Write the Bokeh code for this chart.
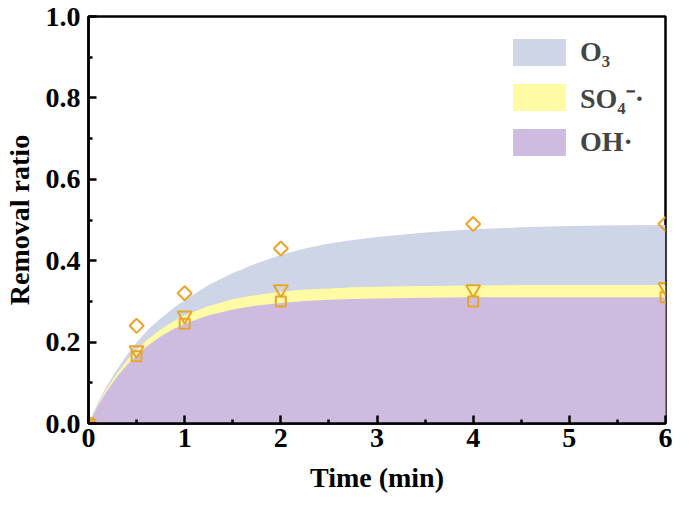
import math
from bokeh.plotting import figure
from bokeh.models import Legend, LegendItem, FixedTicker, CustomJSTickFormatter
from bokeh.embed import file_html
from bokeh.resources import INLINE

# measured points (min, removal ratio)
t_pts = [0, 0.5, 1, 2, 4, 6]
o3_pts = [0, 0.24, 0.32, 0.43, 0.49, 0.49]
so4_pts = [0, 0.18, 0.265, 0.33, 0.33, 0.335]
oh_pts = [0, 0.165, 0.245, 0.30, 0.30, 0.31]

# fitted curves
t_fit = [0, 0.1, 0.2, 0.3, 0.4, 0.5, 0.625, 0.75, 0.875, 1, 1.25, 1.5, 1.75,
         2, 2.25, 2.5, 2.75, 3, 3.5, 4, 4.5, 5, 5.5, 6]
o3_fit = [0, 0.052, 0.096, 0.134, 0.168, 0.199, 0.232, 0.258, 0.282, 0.303,
          0.340, 0.370, 0.394, 0.414, 0.430, 0.442, 0.451, 0.458, 0.469,
          0.477, 0.482, 0.485, 0.487, 0.488]
so4_fit = [0, 0.048, 0.089, 0.124, 0.155, 0.181, 0.208, 0.231, 0.250, 0.266,
           0.289, 0.305, 0.316, 0.324, 0.329, 0.332, 0.335, 0.336, 0.338,
           0.339, 0.340, 0.340, 0.340, 0.340]
oh_fit = [0, 0.045, 0.083, 0.116, 0.144, 0.168, 0.193, 0.214, 0.231, 0.245,
          0.266, 0.280, 0.290, 0.296, 0.301, 0.304, 0.306, 0.307, 0.309,
          0.310, 0.310, 0.310, 0.310, 0.310]

labels = ["O\u2083", "SO\u2084\u207b\u00b7", "OH\u00b7"]
x_ticks = [0, 1, 2, 3, 4, 5, 6]
x_minor = [0.5, 1.5, 2.5, 3.5, 4.5, 5.5]
y_ticks = [0.0, 0.2, 0.4, 0.6, 0.8, 1.0]
y_minor = [0.1, 0.3, 0.5, 0.7, 0.9]

C_O3 = "#CDD5E6"
C_SO4 = "#FFFBA5"
C_OH = "#CDBCE0"
C_MK = "#EBA42A"
FONT = "Liberation Serif"

p = figure(width=673, height=503, x_range=(0, 6), y_range=(0, 1.0),
           output_backend="svg", toolbar_location=None,
           min_border_left=81, min_border_right=8, min_border_top=16,
           min_border_bottom=80)
p.grid.visible = False
p.outline_line_color = "black"
p.outline_line_width = 2.5
p.background_fill_color = "white"
p.border_fill_color = "white"

r_o3 = p.varea(x=t_fit, y1=0, y2=o3_fit, fill_color=C_O3)
r_so4 = p.varea(x=t_fit, y1=0, y2=so4_fit, fill_color=C_SO4)
r_oh = p.varea(x=t_fit, y1=0, y2=oh_fit, fill_color=C_OH)

p.scatter(t_pts, o3_pts, marker="square", angle=math.pi / 4, size=10,
          fill_color=None, line_color=C_MK, line_width=2)
p.scatter(t_pts, so4_pts, marker="inverted_triangle", size=14, fill_color=None,
          line_color=C_MK, line_width=2)
p.scatter(t_pts, oh_pts, marker="square", size=10, fill_color=None,
          line_color=C_MK, line_width=2)

for ax in (p.xaxis[0], p.yaxis[0]):
    ax.axis_line_width = 2.5
    ax.major_tick_in = 8
    ax.major_tick_out = 0
    ax.minor_tick_in = 4
    ax.minor_tick_out = 0
    ax.major_tick_line_width = 2.5
    ax.minor_tick_line_width = 2.5
    ax.major_label_text_font = FONT
    ax.major_label_text_font_style = "bold"
    ax.major_label_text_font_size = "28px"
    ax.major_label_text_color = "black"
    ax.axis_label_text_font = FONT
    ax.axis_label_text_font_style = "bold"
    ax.axis_label_text_font_size = "28px"
    ax.axis_label_text_color = "black"

p.xaxis.ticker = FixedTicker(ticks=x_ticks, minor_ticks=x_minor)
p.yaxis.ticker = FixedTicker(ticks=y_ticks, minor_ticks=y_minor)
p.yaxis.formatter = CustomJSTickFormatter(code="return tick.toFixed(1);")
p.xaxis.major_label_standoff = 5
p.yaxis.major_label_standoff = 8
p.xaxis.axis_label = "Time (min)"
p.yaxis.axis_label = "Removal ratio"
p.xaxis.axis_label_standoff = 12
p.yaxis.axis_label_standoff = 8

legend = Legend(items=[LegendItem(label=labels[0], renderers=[r_o3]),
                       LegendItem(label=labels[1], renderers=[r_so4]),
                       LegendItem(label=labels[2], renderers=[r_oh])],
                location=(418, 264))
legend.border_line_color = None
legend.background_fill_alpha = 0
legend.padding = 0
legend.margin = 0
legend.spacing = 9
legend.glyph_width = 66
legend.glyph_height = 34
legend.label_standoff = 8
legend.label_text_font = FONT
legend.label_text_font_style = "bold"
legend.label_text_font_size = "28px"
legend.label_height = 34
p.add_layout(legend)

open("out.html", "w").write(file_html(p, INLINE))
